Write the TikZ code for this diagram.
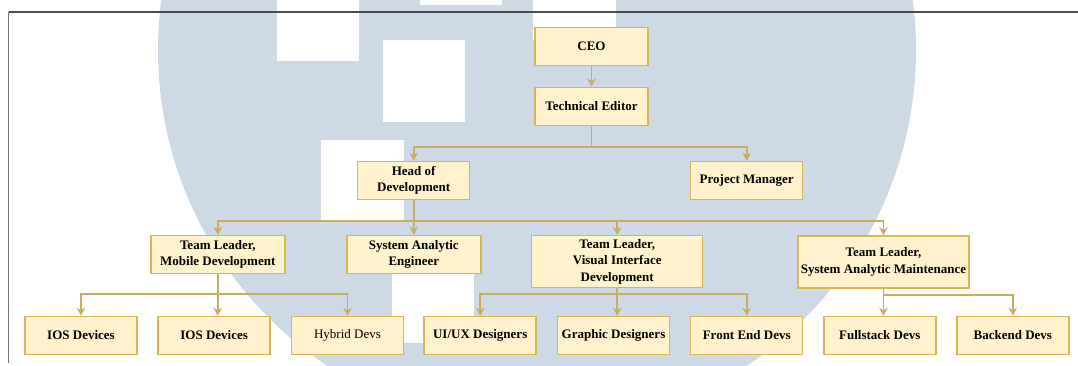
\documentclass[tikz,border=0pt]{standalone}
\usepackage{fontspec}
\setmainfont{Liberation Serif}
\usetikzlibrary{arrows.meta}
\definecolor{wmblue}{HTML}{CDD9E5}
\definecolor{boxfill}{HTML}{FFF2CC}
\definecolor{boxline}{HTML}{D6B656}
\definecolor{conncol}{HTML}{C8AD5E}
\tikzset{
  orgbox/.style={draw=boxline, fill=boxfill, line width=1.5pt, inner sep=0pt,
    align=center, font=\fontsize{13}{16.5}\selectfont\bfseries,
    minimum height=38pt},
  plainbox/.style={orgbox, font=\fontsize{13}{16.5}\selectfont},
  conn/.style={draw=conncol, line width=1.8pt},
  arr/.style={conn, -{Stealth[length=8pt,width=8.5pt,inset=2.5pt]}},
}
\begin{document}
\begin{tikzpicture}[x=1pt,y=-1pt]
\useasboundingbox (0,0) rectangle (1078,365);
% watermark
\begin{scope}
  \clip (0,0) rectangle (1078,365);
  \fill[wmblue] (537,50) circle[radius=379];
  \fill[white] (277,-25) rectangle (359,61);
  \fill[white] (383,40) rectangle (465,122);
  \fill[white] (420,-77) rectangle (502,5);
  \fill[white] (321,140) rectangle (404,222);
  \fill[white] (392,261) rectangle (474,343);
  \fill[white] (533,-42) rectangle (616,40);
\end{scope}
% frame
\draw[color=black!70, line width=1.3pt] (8.5,12) -- (1078,12);
\draw[color=black!55, line width=1.3pt] (8.5,12) -- (8.5,363);
% nodes
\node[orgbox, minimum width=113pt] (ceo) at (591.5,46.5) {CEO};
\node[orgbox, minimum width=113pt] (te) at (591.5,106.3) {Technical Editor};
\node[orgbox, minimum width=112pt] (hod) at (413.7,180.5) {Head of\\Development};
\node[orgbox, minimum width=112pt] (pm) at (746.7,180.5) {Project Manager};
\node[orgbox, minimum width=134pt] (tlm) at (217.8,254.5) {Team Leader,\\Mobile Development};
\node[orgbox, minimum width=134pt] (sae) at (413.8,254.5) {System Analytic\\Engineer};
\node[orgbox, minimum width=171pt, minimum height=52pt] (tlv) at (617.2,261.7) {Team Leader,\\Visual Interface\\Development};
\node[orgbox, minimum width=171pt, minimum height=52pt] (tls) at (883.5,262) {Team Leader,\\System Analytic Maintenance};
\node[orgbox, minimum width=112pt] (ios1) at (81,335.5) {IOS Devices};
\node[orgbox, minimum width=112pt] (ios2) at (214.2,335.5) {IOS Devices};
\node[plainbox, minimum width=112pt] (hyb) at (347.5,335.5) {Hybrid Devs};
\node[orgbox, minimum width=112pt] (uiux) at (480.2,335.5) {UI/UX Designers};
\node[orgbox, minimum width=112pt] (gd) at (613.5,335.5) {Graphic Designers};
\node[orgbox, minimum width=112pt] (fe) at (746.7,335.5) {Front End Devs};
\node[orgbox, minimum width=112pt] (fs) at (879.8,335.5) {Fullstack Devs};
\node[orgbox, minimum width=112pt] (be) at (1012.8,335.5) {Backend Devs};
% bus coordinates
\coordinate (b1) at (591.5,146.7);
\coordinate (b2) at (413.7,220.7);
\coordinate (b3) at (217.7,294.3);
\coordinate (b4) at (617.2,294.3);
\coordinate (b5) at (883.5,294.6);
% connectors
\draw[arr] (ceo) -- (te);
\draw[conn] (te.south) -- (b1);
\draw[arr] (b1) -| (hod.north);
\draw[arr] (b1) -| (pm.north);
\draw[conn] (hod.south) -- (b2);
\draw[arr] (b2) -| (tlm.north);
\draw[arr] (b2) -- (sae.north);
\draw[arr] (b2) -| (tlv.north);
\draw[arr] (b2) -| (tls.north);
\draw[conn] (b3 |- tlm.south) -- (b3);
\draw[arr] (b3) -| (ios1.north);
\draw[arr] (b3) -- (b3 |- ios2.north);
\draw[arr] (b3) -| (hyb.north);
\draw[conn] (tlv.south) -- (b4);
\draw[arr] (b4) -| (uiux.north);
\draw[arr] (b4) -- (b4 |- gd.north);
\draw[arr] (b4) -| (fe.north);
\draw[conn] (tls.south) -- (b5);
\draw[arr] (b5) -- (b5 |- fs.north);
\draw[arr] (b5) -| (be.north);
\end{tikzpicture}
\end{document}
